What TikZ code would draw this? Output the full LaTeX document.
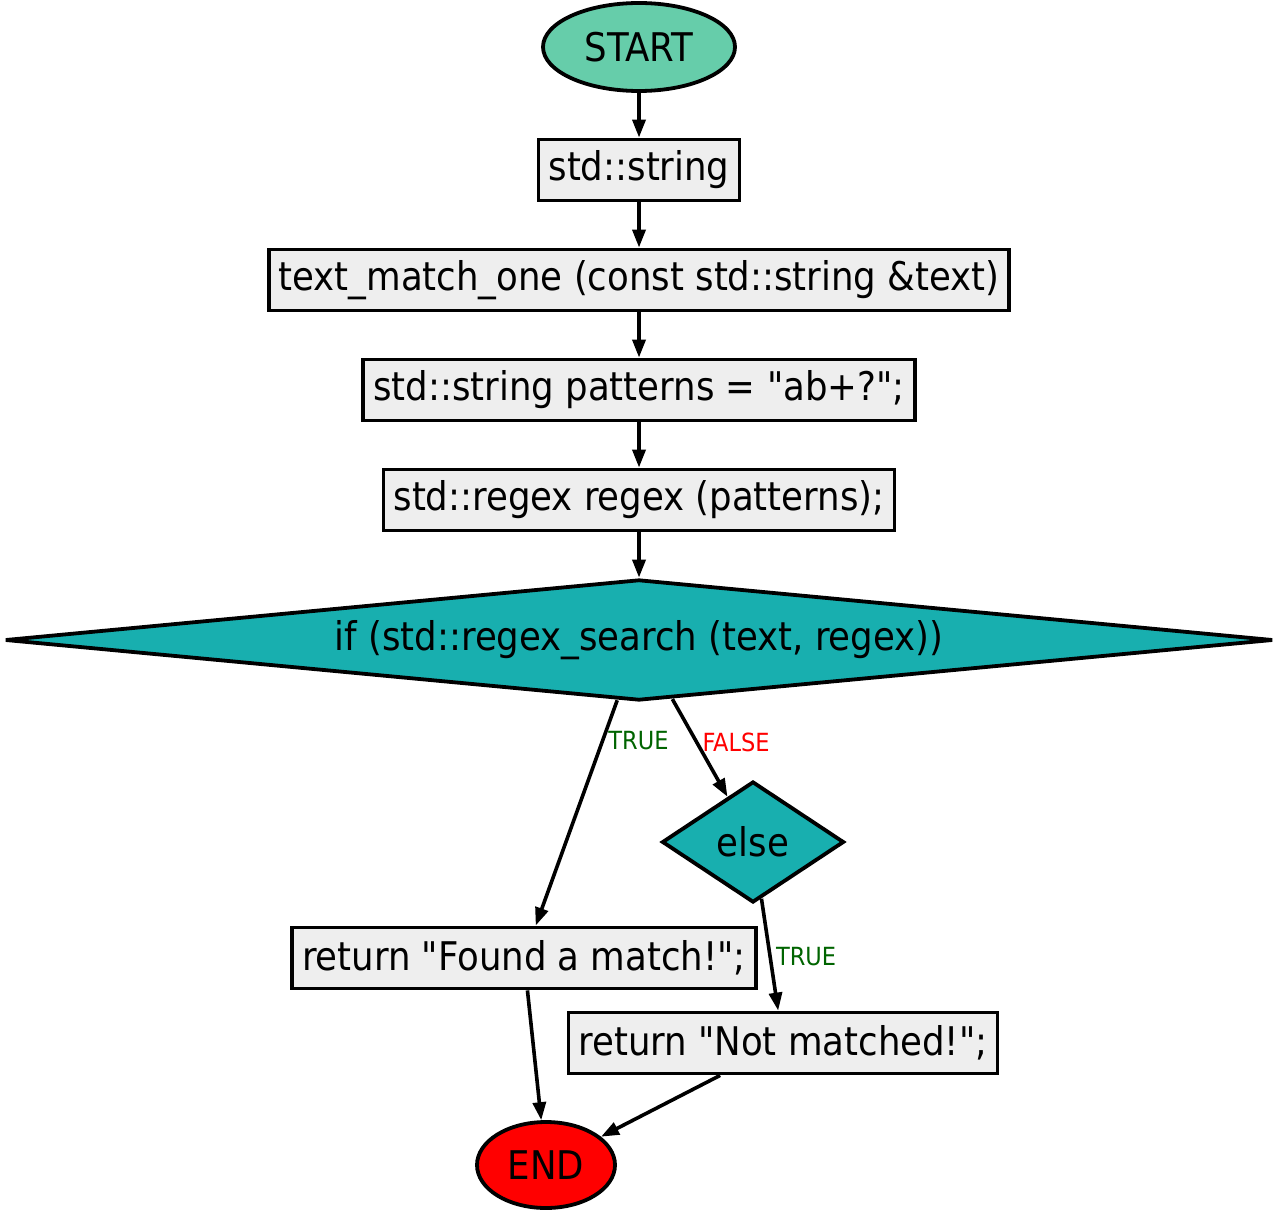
\documentclass[tikz,border=0pt]{standalone}
\usepackage{fontspec}
\setmainfont[Ligatures=TeXOff]{DejaVu Sans Condensed}
\usetikzlibrary{shapes.geometric,arrows.meta}
\definecolor{startcol}{HTML}{66CDAA}
\definecolor{boxcol}{HTML}{EEEEEE}
\definecolor{condcol}{HTML}{18AFAF}
\definecolor{truecol}{HTML}{006400}

\begin{document}
\begin{tikzpicture}[x=1pt,y=-1pt]
	\tikzstyle{every node}=[draw,line width=3.8pt,font=\fontsize{39.5}{46}\selectfont]
	\tikzstyle{stmt}=[rectangle,fill=boxcol,minimum height=61pt,inner xsep=10pt]
	\tikzstyle{cond}=[diamond,fill=condcol,inner sep=0pt]
	\tikzstyle{flow}=[line width=3.6pt,-{Triangle[length=18pt,width=13pt]}]
	\tikzstyle{lbl}=[draw=none,anchor=west,inner sep=4pt,font=\fontsize{25}{30}\selectfont]
	\useasboundingbox (0,0) rectangle (1279,1214);

	\node[ellipse,fill=startcol,minimum width=192pt,minimum height=88pt,inner sep=0pt] (start) at (639,47) {START};
	\node[stmt] (str) at (639,170) {std::string};
	\node[stmt] (func) at (639,280) {text\_match\_one (const std::string \&text)};
	\node[stmt] (pat) at (639,390) {std::string patterns = "ab+?";};
	\node[stmt] (rgx) at (639,500) {std::regex regex (patterns);};
	\node[cond,shape aspect=10.5,minimum width=1268pt,minimum height=121pt] (if) at (639,640) {if (std::regex\_search (text, regex))};
	\node[cond,shape aspect=1.5,minimum width=182pt,minimum height=121pt] (else) at (753,842) {else};
	\node[stmt] (found) at (524,958) {return "Found a match!";};
	\node[stmt] (notm) at (783,1043) {return "Not matched!";};
	\node[ellipse,fill=red,minimum width=138pt,minimum height=86pt,inner sep=0pt] (end) at (546,1165) {END};

	\draw[flow] (start) -- (str);
	\draw[flow] (str) -- (func);
	\draw[flow] (func) -- (pat);
	\draw[flow] (pat) -- (rgx);
	\draw[flow] (rgx) -- (if);
	\draw[flow] (if) -- node[lbl,text=truecol,pos=0.18] (t1) {TRUE} (found);
	\draw[flow] (if) -- node[lbl,text=red,pos=0.44] (f1) {FALSE} (else);
	\draw[flow] (else) -- node[lbl,text=truecol,pos=0.52] (t2) {TRUE} (notm);
	\draw[flow] (found) -- (end);
	\draw[flow] (notm) -- (end);
\end{tikzpicture}
\end{document}
